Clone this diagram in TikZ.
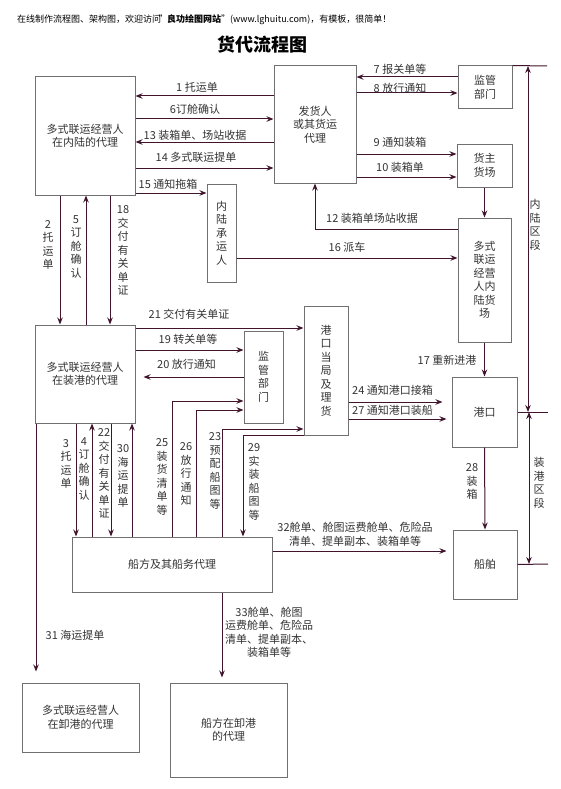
\documentclass[tikz,border=0pt]{standalone}
\usepackage{fontspec}
\setmainfont{Noto Sans CJK SC}
\usetikzlibrary{arrows.meta}
\definecolor{lc}{HTML}{40142C}
\definecolor{boxgray}{HTML}{707070}
\definecolor{txt}{HTML}{333333}
\tikzset{
  box/.style={draw=boxgray, line width=1pt, fill=white, inner sep=0pt, align=center, text=txt, font=\fontsize{11}{13.5}\selectfont},
  conn/.style={draw=lc, line width=1pt, -{Stealth[length=7pt,width=5.5pt]}},
  dconn/.style={draw=lc, line width=1pt, {Stealth[length=7pt,width=5.5pt]}-{Stealth[length=7pt,width=5.5pt]}},
  plain/.style={draw=lc, line width=1pt},
  lbl/.style={text=txt, font=\fontsize{11}{13.5}\selectfont, inner sep=0pt, align=center},
}
\begin{document}
\begin{tikzpicture}[x=1pt,y=-1pt]
\fill[white] (0,0) rectangle (560,789);
\path[use as bounding box] (0,0) rectangle (560,789);

% header and title
\node[anchor=west, inner sep=0pt, font=\fontsize{9}{11}\selectfont] (hdr) at (17,20) {在线制作流程图、架构图，欢迎访问\kern-0.25em"\kern-0.1em\textbf{良功绘图网站}"(www.lghuitu.com)，有模板，很简单！};
\node[inner sep=0pt, font=\bfseries\fontsize{18}{20}\selectfont] (title) at (262.5,45) {货代流程图};

% boxes
\node[box, minimum width=100pt, minimum height=118pt] (A) at (85,136) {多式联运经营人\\在内陆的代理};
\node[box, minimum width=82pt, minimum height=117pt] (B) at (315,124.5) {发货人\\或其货运\\代理};
\node[box, minimum width=54pt, minimum height=43pt] (JG1) at (485,87.5) {监管\\部门};
\node[box, minimum width=55pt, minimum height=43pt] (HZ) at (484.5,165.5) {货主\\货场};
\node[box, minimum width=53pt, minimum height=124pt] (NLHC) at (484.5,280) {多式\\联运\\经营\\人内\\陆货\\场};
\node[box, minimum width=29pt, minimum height=98pt] (NLCY) at (221.5,233) {内\\陆\\承\\运\\人};
\node[box, minimum width=100pt, minimum height=98pt] (ZG) at (85,374) {多式联运经营人\\在装港的代理};
\node[box, minimum width=39pt, minimum height=92pt] (JG2) at (263.5,377) {监\\管\\部\\门};
\node[box, minimum width=44pt, minimum height=129pt] (GKDJ) at (326,370.5) {港\\口\\当\\局\\及\\理\\货};
\node[box, minimum width=65pt, minimum height=70pt] (GK) at (484.5,412) {港口};
\node[box, minimum width=64pt, minimum height=69pt] (CB) at (485,564.5) {船舶};
\node[box, minimum width=200pt, minimum height=55pt] (CF) at (172,564.5) {船方及其船务代理};
\node[box, minimum width=117pt, minimum height=69pt] (XG) at (80.5,717.5) {多式联运经营人\\在卸港的代理};
\node[box, minimum width=117pt, minimum height=94pt] (CFX) at (228.5,730) {船方在卸港\\的代理};

% top section connectors
\draw[conn] (B.west |- 0,96) -- (A.east |- 0,96);
\draw[conn] (A.east |- 0,119) -- (B.west |- 0,119);
\draw[conn] (B.west |- 0,142) -- (A.east |- 0,142);
\draw[conn] (A.east |- 0,168) -- (B.west |- 0,168);
\draw[conn] (A.east |- 0,193) -- (NLCY.west |- 0,193);
\draw[conn] (JG1.west |- 0,77) -- (B.east |- 0,77);
\draw[conn] (B.east |- 0,93) -- (JG1.west |- 0,93);
\draw[conn] (B.east |- 0,154) -- (HZ.west |- 0,154);
\draw[conn] (B.east |- 0,177) -- (HZ.west |- 0,177);
\draw[conn] (HZ.south) -- (NLHC.north);
\draw[conn] (NLHC.west |- 0,229) -| (B.south);
\draw[conn] (NLCY.east |- 0,258) -- (NLHC.west |- 0,258);

\node[lbl] (l1) at (197,87) {1 托运单};
\node[lbl] (l6) at (195,109) {6订舱确认};
\node[lbl] (l13) at (195,135) {13 装箱单、场站收据};
\node[lbl] (l14) at (196,157) {14 多式联运提单};
\node[lbl] (l15) at (168,184) {15 通知拖箱};
\node[lbl] (l7) at (400,69) {7 报关单等};
\node[lbl] (l8) at (400,88) {8 放行通知};
\node[lbl] (l9) at (400,142) {9 通知装箱};
\node[lbl] (l10) at (400,167) {10 装箱单};
\node[lbl] (l12) at (372,218) {12 装箱单场站收据};
\node[lbl] (l16) at (347,247) {16 派车};

% A <-> ZG
\draw[conn] (A.south -| 60,0) -- (ZG.north -| 60,0);
\draw[conn] (ZG.north -| 86,0) -- (A.south -| 86,0);
\draw[conn] (A.south -| 110,0) -- (ZG.north -| 110,0);
\node[lbl] (l2) at (48,245) {2\\托\\运\\单};
\node[lbl] (l5) at (76,247) {5\\订\\舱\\确\\认};
\node[lbl] (l18) at (123,250.5) {18\\交\\付\\有\\关\\单\\证};

% middle section
\draw[conn] (ZG.east |- 0,328) -- (GKDJ.west |- 0,328);
\draw[conn] (ZG.east |- 0,350) -- (JG2.west |- 0,350);
\draw[conn, shorten >=8pt] (JG2.west |- 0,377) -- (ZG.east |- 0,377);
\node[lbl] (l21) at (189,314) {21 交付有关单证};
\node[lbl] (l19) at (188,339) {19 转关单等};
\node[lbl] (l20) at (186.5,364) {20 放行通知};

\draw[conn] (NLHC.south) -- (GK.north);
\node[lbl] (l17) at (447,360) {17 重新进港};
\draw[conn, shorten >=9pt] (GKDJ.east |- 0,402) -- (GK.west |- 0,402);
\draw[conn, shorten >=5pt] (GKDJ.east |- 0,419) -- (GK.west |- 0,419);
\node[lbl] (l24) at (392.5,390) {24 通知港口接箱};
\node[lbl] (l27) at (392.5,410) {27 通知港口装船};
\draw[conn] (GK.south) -- (CB.north);
\node[lbl] (l28) at (472,481.5) {28\\装\\箱};

% ZG <-> CF
\draw[conn] (ZG.south -| 76,0) -- (CF.north -| 76,0);
\draw[conn] (CF.north -| 92,0) -- (ZG.south -| 92,0);
\draw[conn] (ZG.south -| 111,0) -- (CF.north -| 111,0);
\draw[conn] (CF.north -| 132,0) -- (ZG.south -| 132,0);
\node[lbl] (l3) at (66,464) {3\\托\\运\\单};
\node[lbl] (l4) at (84,469) {4\\订\\舱\\确\\认};
\node[lbl] (l22) at (104,473.5) {22\\交\\付\\有\\关\\单\\证};
\node[lbl] (l30) at (123,476) {30\\海\\运\\提\\单};

% CF -> JG2 / GKDJ
\draw[conn] (CF.north -| 172,0) |- (JG2.west |- 0,401);
\draw[conn] (CF.north -| 196,0) |- (JG2.west |- 0,410);
\draw[conn] (CF.north -| 222,0) |- (GKDJ.west |- 0,429);
\draw[conn] (GKDJ.south west) -| (CF.north -| 243,0);
\node[lbl] (l25) at (162,477) {25\\装\\货\\清\\单\\等};
\node[lbl] (l26) at (186,474) {26\\放\\行\\通\\知};
\node[lbl] (l23) at (215,471) {23\\预\\配\\船\\图\\等};
\node[lbl] (l29) at (254,482) {29\\实\\装\\船\\图\\等};

% bottom
\draw[conn, shorten >=11pt] (ZG.south -| 36,0) -- (XG.north -| 36,0);
\node[lbl] (l31) at (75,635) {31 海运提单};
\draw[conn, shorten >=6pt] (CF.east |- 0,551) -- (CB.west |- 0,551);
\node[lbl] (l32) at (355,534.5) {32舱单、舱图运费舱单、危险品\\清单、提单副本、装箱单等};
\draw[conn, shorten >=5pt] (CF.south -| 222,0) -- (CFX.north -| 222,0);
\node[lbl] (l33) at (269,632.5) {33舱单、舱图\\运费舱单、危险品\\清单、提单副本、\\装箱单等};

% right side sections
\coordinate (r1) at (547,66);
\coordinate (r2) at (548,412);
\coordinate (r3) at (548,564);
\coordinate (s1t) at (528,66);
\coordinate (s1b) at (528,412);
\coordinate (s2t) at (529,412);
\coordinate (s2b) at (529,564);
\draw[plain] (JG1.north east) -- (r1);
\draw[plain] (GK.east) -- (r2);
\draw[plain] (CB.east) -- (r3);
\draw[dconn] (s1t) -- (s1b);
\draw[dconn] (s2t) -- (s2b);
\node[lbl] (lnl) at (535,225) {内\\陆\\区\\段};
\node[lbl] (lzg) at (539,483) {装\\港\\区\\段};
\end{tikzpicture}
\end{document}
